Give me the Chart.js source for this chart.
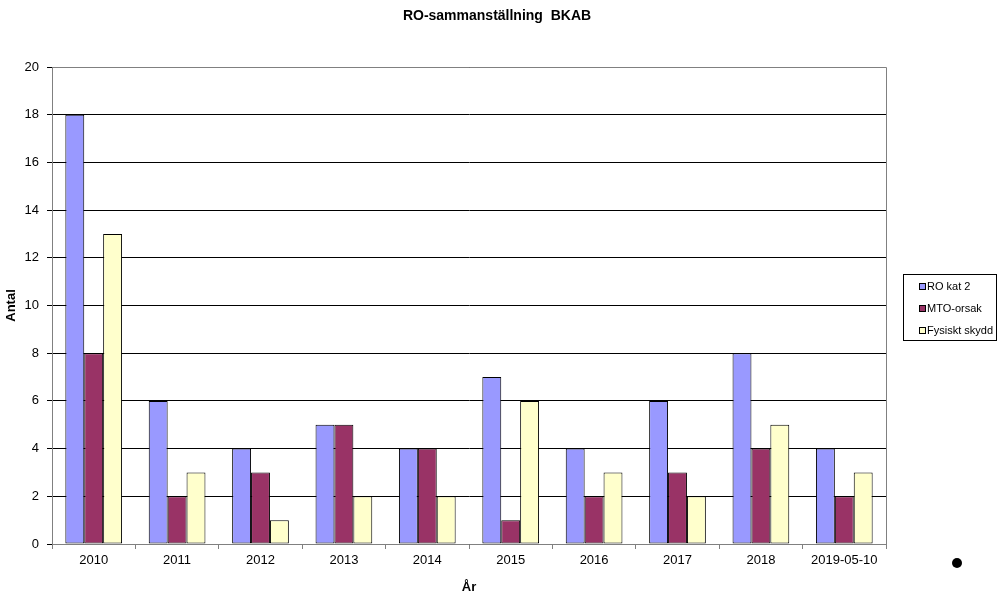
<!DOCTYPE html>
<html>
<head>
<meta charset="utf-8">
<script src="https://cdn.jsdelivr.net/npm/chart.js@4"></script>
<style>
  html, body { margin: 0; padding: 0; background: #fff; }
  #wrap { width: 999px; height: 595px; }
</style>
</head>
<body>
<div id="wrap"><canvas id="chart" width="999" height="595"></canvas></div>
<script>
var years = ['2010', '2011', '2012', '2013', '2014', '2015', '2016', '2017', '2018', '2019-05-10'];
var roKat2 = [18, 6, 4, 5, 4, 7, 4, 6, 8, 4];
var mtoOrsak = [8, 2, 3, 5, 4, 1, 2, 3, 4, 2];
var fysisktSkydd = [13, 3, 1, 2, 2, 6, 3, 2, 5, 3];

var FONT = '"Liberation Sans", Arial, sans-serif';

// title, plot frame, box legend and the stray dot
var extras = {
    id: 'extras',
    beforeDatasetsDraw: function (chart) {
        var ctx = chart.ctx, a = chart.chartArea;
        ctx.save();
        ctx.strokeStyle = '#808080';
        ctx.lineWidth = 1;
        ctx.beginPath();
        ctx.moveTo(a.left, a.top + 0.5);
        ctx.lineTo(a.right + 0.5, a.top + 0.5);
        ctx.lineTo(a.right + 0.5, a.bottom);
        ctx.stroke();
        ctx.restore();
    },
    afterDraw: function (chart) {
        var ctx = chart.ctx;
        ctx.save();
        ctx.fillStyle = '#000';
        ctx.font = 'bold 14px ' + FONT;
        ctx.textAlign = 'center';
        ctx.textBaseline = 'middle';
        ctx.fillText('RO-sammanställning  BKAB', 497, 16);

        // legend
        ctx.strokeStyle = '#000';
        ctx.lineWidth = 1;
        ctx.strokeRect(903.5, 274.5, 93, 66);
        ctx.font = '11px ' + FONT;
        ctx.textAlign = 'left';
        chart.data.datasets.forEach(function (ds, i) {
            var y = 287 + i * 22;
            ctx.fillStyle = ds.backgroundColor;
            ctx.fillRect(919.5, y - 3.5, 6, 6);
            ctx.strokeRect(919.5, y - 3.5, 6, 6);
            ctx.fillStyle = '#000';
            ctx.fillText(ds.label, 927, y);
        });

        ctx.beginPath();
        ctx.arc(957, 563, 5, 0, Math.PI * 2);
        ctx.fill();
        ctx.restore();
    }
};

new Chart(document.getElementById('chart'), {
    type: 'bar',
    data: {
        labels: years,
        datasets: [
            { label: 'RO kat 2', data: roKat2, backgroundColor: '#9999FF' },
            { label: 'MTO-orsak', data: mtoOrsak, backgroundColor: '#993366' },
            { label: 'Fysiskt skydd', data: fysisktSkydd, backgroundColor: '#FFFFCC' }
        ].map(function (d) {
            d.borderColor = '#000';
            d.borderWidth = 1;
            d.borderSkipped = false;
            d.categoryPercentage = 0.68;
            d.barPercentage = 1;
            return d;
        })
    },
    options: {
        responsive: false,
        animation: false,
        layout: { padding: { top: 67, right: 113, bottom: 0, left: 0 } },
        plugins: {
            legend: { display: false },
            title: { display: false },
            tooltip: { enabled: false }
        },
        scales: {
            x: {
                afterFit: function (s) { s.height = 51; },
                grid: { drawOnChartArea: false, drawTicks: true, tickLength: 5, color: '#808080', offset: true },
                border: { color: '#808080' },
                ticks: { color: '#000', font: { family: FONT, size: 13 }, padding: 4, maxRotation: 0 },
                title: { display: true, text: 'År', color: '#000', font: { family: FONT, size: 13, weight: 'bold' }, padding: { top: 0, bottom: 0 } }
            },
            y: {
                min: 0,
                max: 20,
                afterFit: function (s) { s.width = 52; },
                grid: { color: '#000', tickLength: 5 },
                border: { color: '#808080' },
                ticks: { stepSize: 2, color: '#000', font: { family: FONT, size: 13 }, padding: 8 },
                title: { display: true, text: 'Antal', color: '#000', font: { family: FONT, size: 13, weight: 'bold' }, padding: { top: 4, bottom: 0 } }
            }
        }
    },
    plugins: [extras]
});
</script>
</body>
</html>
